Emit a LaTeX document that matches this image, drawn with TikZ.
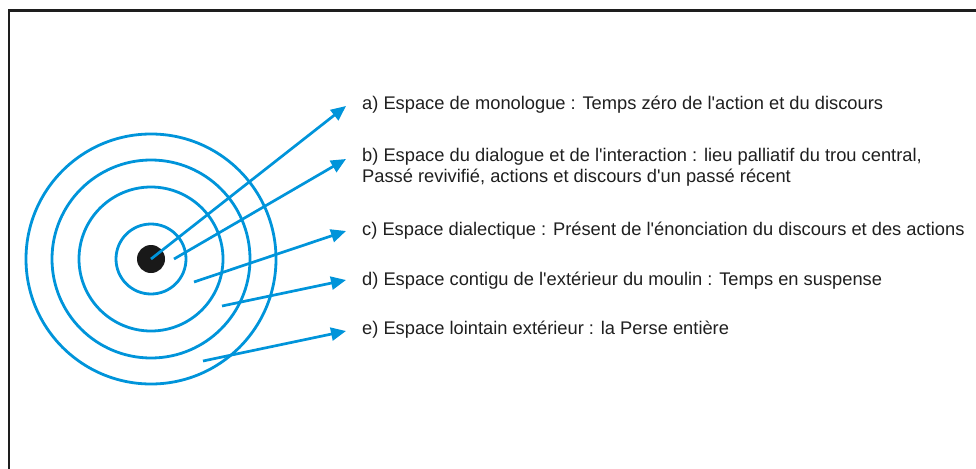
\documentclass[tikz,border=0pt]{standalone}
\usepackage{fontspec}
\setmainfont{Liberation Sans}[Ligatures=TeXOff]
\usetikzlibrary{arrows.meta}
\definecolor{ringblue}{RGB}{0,148,218}
\definecolor{framegray}{RGB}{30,30,30}
\begin{document}
\begin{tikzpicture}[x=1pt,y=-1pt,
  ring/.style={draw=ringblue,line width=2.8pt},
  pointer/.style={draw=ringblue,line width=2.7pt,-{Triangle[length=15pt,width=13pt]}},
  label/.style={anchor=base west,inner sep=0pt,font=\fontsize{18.3}{21}\selectfont,text=black!88,align=left}]
\useasboundingbox (0,0) rectangle (976,468);
\draw[framegray,line width=2.8pt] (9,480) -- (9,10.7) -- (990,10.7);
% rings
\coordinate (c0) at (151,259);
\draw[ring] (c0) circle[radius=125];
\draw[ring] (c0) circle[radius=99];
\draw[ring] (c0) circle[radius=72];
\draw[ring] (c0) circle[radius=35];
\fill[black!90] (c0) circle[radius=14];
% labels
\node[label] (ta) at (362,110) {a) Espace de monologue : Temps zéro de l'action et du discours};
\node[label,anchor=north west] (tb) at (362,148) {b) Espace du dialogue et de l'interaction : lieu palliatif du trou central,\\Passé revivifié, actions et discours d'un passé récent};
\node[label] (tc) at (362,235) {c) Espace dialectique : Présent de l'énonciation du discours et des actions};
\node[label] (td) at (362,285) {d) Espace contigu de l'extérieur du moulin : Temps en suspense};
\node[label] (te) at (362,334) {e) Espace lointain extérieur : la Perse entière};
% arrow ends
\coordinate (sa) at (151,259); \coordinate (ea) at (346,106);
\coordinate (sb) at (174,259); \coordinate (eb) at (346,159);
\coordinate (sc) at (194,282); \coordinate (ec) at (346,231);
\coordinate (sd) at (222,306); \coordinate (ed) at (346,280);
\coordinate (se) at (203,361); \coordinate (ee) at (346,331);
\draw[pointer] (sa) -- (ea);
\draw[pointer] (sb) -- (eb);
\draw[pointer] (sc) -- (ec);
\draw[pointer] (sd) -- (ed);
\draw[pointer] (se) -- (ee);
\end{tikzpicture}
\end{document}
